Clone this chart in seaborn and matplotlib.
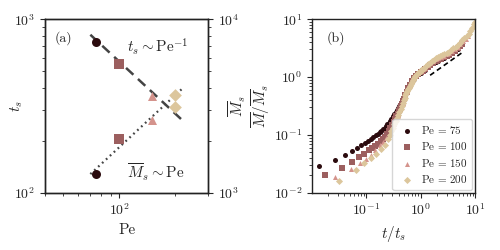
import matplotlib
matplotlib.use("Agg")
import matplotlib.pyplot as plt
from matplotlib.ticker import NullFormatter
import numpy as np
import seaborn as sns

# (a) saturation time and saturation mass vs Pe
pe = [75, 100, 150, 200]
t_s = [736, 549, 360, 313]
m_s = [1290, 2040, 2620, 3680]
colors = ["#2b0b0e", "#9c5f5f", "#d4938c", "#dcc69c"]
markers = ["o", "s", "^", "D"]

# scaling guides in (a) and (b)
pe_guide = np.array([70, 220])
ts_prefactor = 5.7e4
ms_prefactor = 18.3
t_guide = np.array([1.5, 6.0])
m_prefactor = 0.82

# (b) rescaled mass vs rescaled time
t75 = [0.0137, 0.0274, 0.0411, 0.0548, 0.0685, 0.0822, 0.096, 0.110, 0.123, 0.137,
       0.151, 0.164, 0.178, 0.192, 0.205, 0.219, 0.233, 0.247, 0.260, 0.274,
       0.29, 0.31, 0.33, 0.35, 0.37, 0.39, 0.41, 0.43, 0.45, 0.48,
       0.51, 0.55, 0.60, 0.65, 0.70, 0.76, 0.83, 0.90, 1.0, 1.1,
       1.2, 1.35, 1.5, 1.7, 1.9, 2.1, 2.4, 2.7, 3.0, 3.4,
       3.8, 4.3, 4.8, 5.4]
m75 = [0.029, 0.0373, 0.0456, 0.052, 0.0596, 0.067, 0.073, 0.0795, 0.0855, 0.092,
       0.0985, 0.104, 0.111, 0.118, 0.125, 0.133, 0.142, 0.152, 0.162, 0.173,
       0.19, 0.21, 0.230, 0.249, 0.269, 0.290, 0.311, 0.331, 0.353, 0.385,
       0.458, 0.546, 0.635, 0.740, 0.839, 0.942, 1.04, 1.135, 1.197, 1.262,
       1.33, 1.469, 1.60, 1.722, 1.841, 1.919, 2.046, 2.163, 2.27, 2.404,
       2.594, 2.825, 3.09, 3.459]

t100 = [0.0177, 0.0366, 0.0552, 0.0745, 0.093, 0.112, 0.130, 0.148, 0.167, 0.185,
        0.204, 0.222, 0.241, 0.26, 0.28, 0.30, 0.32, 0.34, 0.36, 0.38,
        0.40, 0.42, 0.44, 0.46, 0.48, 0.50, 0.53, 0.56, 0.60, 0.65,
        0.70, 0.76, 0.83, 0.90, 1.0, 1.1, 1.2, 1.35, 1.5, 1.7,
        1.9, 2.1, 2.4, 2.7, 3.0, 3.4, 3.8, 4.3, 4.8, 5.4, 5.8]
m100 = [0.020, 0.0271, 0.034, 0.041, 0.0474, 0.054, 0.060, 0.065, 0.071, 0.077,
        0.084, 0.092, 0.103, 0.115, 0.131, 0.1486, 0.1687, 0.189, 0.2104, 0.2317,
        0.257, 0.2838, 0.3133, 0.346, 0.379, 0.418, 0.490, 0.558, 0.635, 0.740,
        0.849, 0.953, 1.052, 1.148, 1.225, 1.291, 1.361, 1.503, 1.637, 1.762,
        1.884, 1.963, 2.070, 2.188, 2.296, 2.432, 2.624, 2.858, 3.126, 3.499, 3.75]

t150 = [0.0275, 0.054, 0.077, 0.099, 0.122, 0.149, 0.178, 0.205, 0.232, 0.26,
        0.29, 0.32, 0.35, 0.38, 0.41, 0.44, 0.47, 0.50, 0.53, 0.56,
        0.60, 0.65, 0.70, 0.76, 0.83, 0.90, 1.0, 1.1, 1.2, 1.35,
        1.5, 1.7, 1.9, 2.1, 2.4, 2.7, 3.0, 3.4, 3.8, 4.3,
        4.8, 5.4, 6.0, 6.7, 7.4]
m150 = [0.0187, 0.0258, 0.0327, 0.0386, 0.0458, 0.0556, 0.066, 0.076, 0.088, 0.1014,
        0.1256, 0.1538, 0.1849, 0.2188, 0.2618, 0.306, 0.356, 0.418, 0.490, 0.558,
        0.635, 0.740, 0.849, 0.964, 1.076, 1.189, 1.282, 1.368, 1.442, 1.592,
        1.734, 1.866, 2.018, 2.104, 2.244, 2.344, 2.46, 2.606, 2.812, 3.062,
        3.35, 3.75, 4.15, 4.592, 5.035]

t200 = [0.0326, 0.0653, 0.093, 0.124, 0.153, 0.189, 0.22, 0.25, 0.27, 0.29,
        0.31, 0.33, 0.35, 0.37, 0.39, 0.41, 0.43, 0.45, 0.47, 0.49,
        0.51, 0.53, 0.55, 0.57, 0.59, 0.61, 0.63, 0.66, 0.69, 0.72,
        0.76, 0.80, 0.85, 0.90, 0.96, 1.03, 1.10, 1.18, 1.27, 1.37,
        1.48, 1.6, 1.75, 1.9, 2.1, 2.3, 2.5, 2.75, 3.0, 3.3,
        3.6, 4.0, 4.4, 4.8, 5.3, 5.8, 6.4, 7.0, 7.6, 8.2,
        8.8, 9.4, 10.0]
m200 = [0.0157, 0.0243, 0.0327, 0.0399, 0.0474, 0.0571, 0.0676, 0.0838, 0.0984, 0.1146,
        0.1324, 0.1524, 0.1726, 0.1945, 0.2198, 0.250, 0.2805, 0.3155, 0.352, 0.394,
        0.4426, 0.4898, 0.5395, 0.578, 0.6166, 0.6546, 0.695, 0.762, 0.828, 0.895,
        0.964, 1.028, 1.109, 1.189, 1.245, 1.310, 1.368, 1.439, 1.542, 1.656,
        1.774, 1.875, 1.995, 2.113, 2.23, 2.333, 2.427, 2.535, 2.636, 2.761,
        2.897, 3.126, 3.334, 3.589, 3.945, 4.305, 4.72, 5.13, 5.57, 6.21,
        6.95, 8.15, 9.1]

curves_t = [t75, t100, t150, t200]
curves_m = [m75, m100, m150, m200]

sns.set_style("ticks")
plt.rcParams.update({
    "font.family": "serif",
    "font.serif": ["cmr10"],
    "mathtext.fontset": "cm",
    "axes.formatter.use_mathtext": True,
    "axes.unicode_minus": False,
    "axes.edgecolor": "#222222",
    "axes.linewidth": 1.0,
    "xtick.labelsize": 10,
    "ytick.labelsize": 10,
    "axes.labelsize": 11,
})

fig = plt.figure(figsize=(5, 2.5), dpi=100)
ax = fig.add_axes([0.09, 0.229, 0.3266, 0.694])
ax2 = ax.twinx()
axb = fig.add_axes([0.624, 0.229, 0.326, 0.694])

# PANEL (a)
sns.lineplot(x=pe_guide, y=ts_prefactor / pe_guide, ax=ax, color="#444444",
             lw=1.8, linestyle=(0, (4, 2.5)))
sns.lineplot(x=pe_guide, y=ms_prefactor * pe_guide, ax=ax2, color="#444444",
             lw=1.6, linestyle=(0, (0.8, 1.6)))
for i in range(4):
    sns.scatterplot(x=[pe[i]], y=[t_s[i]], ax=ax, marker=markers[i], color=colors[i],
                    s=42, linewidth=0, zorder=3)
    sns.scatterplot(x=[pe[i]], y=[m_s[i]], ax=ax2, marker=markers[i], color=colors[i],
                    s=42, linewidth=0, zorder=3)

ax.set_xscale("log")
ax.set_yscale("log")
ax2.set_yscale("log")
ax.set_xlim(40, 300)
ax.set_ylim(1e2, 1e3)
ax2.set_ylim(1e3, 1e4)
ax.xaxis.set_minor_formatter(NullFormatter())
ax.yaxis.set_minor_formatter(NullFormatter())
ax2.yaxis.set_minor_formatter(NullFormatter())
ax.set_xlabel("Pe")
ax.set_ylabel("$t_s$")
ax2.set_ylabel(r"$\overline{M}_s$")
ax.yaxis.set_label_coords(-0.12, 0.5)
ax2.yaxis.set_label_coords(1.11, 0.5)
ax.text(0.06, 0.93, "(a)", transform=ax.transAxes, va="top", fontsize=10)
ax.text(0.50, 0.845, r"$t_s \sim \mathrm{Pe}^{-1}$", transform=ax.transAxes,
        va="center", fontsize=11)
ax.text(0.50, 0.12, r"$\overline{M}_s \sim \mathrm{Pe}$", transform=ax.transAxes,
        va="center", fontsize=11)

# PANEL (b)
for i in range(4):
    sns.scatterplot(x=curves_t[i], y=curves_m[i], ax=axb, marker=markers[i],
                    color=colors[i], s=13, linewidth=0,
                    label=r"$\mathrm{Pe}\,=\,%d$" % pe[i])
sns.lineplot(x=t_guide, y=m_prefactor * t_guide ** (2 / 3), ax=axb, color="black",
             lw=1.2, linestyle=(0, (3, 2)))
axb.set_xscale("log")
axb.set_yscale("log")
axb.set_xlim(1.02e-2, 1e1)
axb.set_ylim(1e-2, 1e1)
axb.set_xlabel("$t/t_s$")
axb.set_ylabel(r"$\overline{M}/\overline{M}_s$")
axb.yaxis.set_label_coords(-0.245, 0.5)
axb.text(0.09, 0.93, "(b)", transform=axb.transAxes, va="top", fontsize=10)
axb.legend(loc="lower right", fontsize=8, handletextpad=0.3, borderaxespad=0.25,
           labelspacing=0.4, handlelength=1.8, borderpad=0.45)

fig.savefig("out.png", dpi=100)
